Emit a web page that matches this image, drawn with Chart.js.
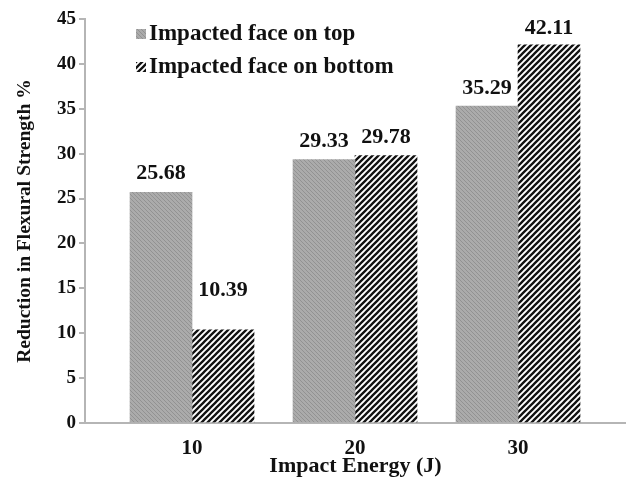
<!DOCTYPE html>
<html>
<head>
<meta charset="utf-8">
<script src="https://cdn.jsdelivr.net/npm/chart.js@4/dist/chart.umd.min.js"></script>
<style>
html,body{margin:0;padding:0;background:#fff;}
#wrap{width:626px;height:482px;}
</style>
</head>
<body>
<div id="wrap"><canvas id="c" width="626" height="482"></canvas></div>
<script>
// ---- data ----
const categories = ['10', '20', '30'];
const seriesNames = ['Impacted face on top', 'Impacted face on bottom'];
const topValues = [25.68, 29.33, 35.29];
const bottomValues = [10.39, 29.78, 42.11];
const yTicks = [0, 5, 10, 15, 20, 25, 30, 35, 40, 45];
const xTitle = 'Impact Energy (J)';
const yTitle = 'Reduction in Flexural Strength %';

const FONT = '"Liberation Serif", "Times New Roman", serif';

function grayPattern() {
  const c = document.createElement('canvas');
  c.width = 4; c.height = 4;
  const g = c.getContext('2d');
  g.fillStyle = '#ababab';
  g.fillRect(0, 0, 4, 4);
  g.strokeStyle = '#929292';
  g.lineWidth = 1;
  g.beginPath();
  g.moveTo(-1, -1); g.lineTo(5, 5);
  g.moveTo(-1, 3); g.lineTo(1, 5);
  g.moveTo(3, -1); g.lineTo(5, 1);
  g.stroke();
  return g.createPattern(c, 'repeat');
}
function hatchPattern() {
  const s = 6;
  const c = document.createElement('canvas');
  c.width = s; c.height = s;
  const g = c.getContext('2d');
  g.fillStyle = '#ffffff';
  g.fillRect(0, 0, s, s);
  g.strokeStyle = '#111111';
  g.lineWidth = 2.3;
  g.lineCap = 'square';
  g.beginPath();
  g.moveTo(0, s); g.lineTo(s, 0);
  g.moveTo(-s / 2, s / 2); g.lineTo(s / 2, -s / 2);
  g.moveTo(s / 2, s * 1.5); g.lineTo(s * 1.5, s / 2);
  g.stroke();
  return g.createPattern(c, 'repeat');
}

const fills = [grayPattern(), hatchPattern()];
const seriesValues = [topValues, bottomValues];

const datasets = seriesNames.map((name, i) => ({
  label: name,
  data: categories.map((c, j) => ({ x: Number(c), y: seriesValues[i][j] })),
  backgroundColor: fills[i],
  borderWidth: 0,
  barThickness: 62,
  grouped: true
}));

const valueLabels = {
  id: 'valueLabels',
  afterDatasetsDraw(chart, args, opts) {
    const ctx = chart.ctx;
    ctx.save();
    ctx.font = 'bold 22px ' + FONT;
    ctx.fillStyle = '#111';
    ctx.textAlign = 'center';
    ctx.textBaseline = 'middle';
    chart.data.datasets.forEach((ds, i) => {
      const meta = chart.getDatasetMeta(i);
      meta.data.forEach((el, j) => {
        const off = (opts.offsets[i] && opts.offsets[i][j]) || 18;
        ctx.fillText(seriesValues[i][j].toFixed(2), el.x, el.y - off);
      });
    });
    ctx.restore();
  }
};

const customLegend = {
  id: 'customLegend',
  afterDraw(chart, args, opts) {
    const ctx = chart.ctx;
    ctx.save();
    ctx.font = 'bold 23px ' + FONT;
    ctx.textAlign = 'left';
    ctx.textBaseline = 'middle';
    seriesNames.forEach((name, i) => {
      const y = opts.y0 + i * opts.dy;
      ctx.fillStyle = fills[i];
      ctx.fillRect(opts.x, y - 5, 10, 10);
      ctx.fillStyle = '#111';
      ctx.fillText(name, opts.x + 13, y);
    });
    ctx.restore();
  }
};

new Chart(document.getElementById('c'), {
  type: 'bar',
  data: { datasets },
  plugins: [valueLabels, customLegend],
  options: {
    responsive: false,
    animation: false,
    devicePixelRatio: 1,
    layout: { padding: { top: 19, right: 0, left: 0, bottom: 0 } },
    plugins: {
      legend: { display: false },
      tooltip: { enabled: false },
      valueLabels: { offsets: [[19, 18, 18], [39, 18, 17]] },
      customLegend: { x: 136, y0: 34, dy: 33 }
    },
    scales: {
      x: {
        type: 'linear',
        offset: false,
        min: 3.435,
        max: 36.625,
        afterBuildTicks(scale) {
          scale.ticks = categories.map(c => ({ value: Number(c) }));
        },
        afterFit(scale) { scale.height = 59; },
        grid: { display: false, offset: false },
        border: { display: true, color: '#b5b5b5', width: 2 },
        ticks: {
          autoSkip: false,
          maxRotation: 0,
          padding: 5,
          color: '#111',
          font: { family: FONT, size: 21, weight: 'bold' },
          callback: (v) => categories.find(c => Number(c) === v) || ''
        },
        title: {
          display: true,
          text: xTitle,
          color: '#111',
          font: { family: FONT, size: 22, weight: 'bold' },
          padding: { top: 0, bottom: 2 }
        }
      },
      y: {
        min: 0,
        max: 45,
        afterBuildTicks(scale) {
          scale.ticks = yTicks.map(v => ({ value: v }));
        },
        afterFit(scale) { scale.width = 85; },
        grid: {
          display: true,
          drawOnChartArea: false,
          drawTicks: true,
          tickLength: 6,
          color: '#b5b5b5',
          lineWidth: 2
        },
        border: { display: true, color: '#b5b5b5', width: 2 },
        ticks: {
          padding: 3,
          color: '#111',
          font: { family: FONT, size: 19, weight: 'bold' }
        },
        title: {
          display: true,
          text: yTitle,
          color: '#111',
          font: { family: FONT, size: 19.5, weight: 'bold' },
          padding: { top: 13, bottom: 0 }
        }
      }
    }
  }
});
</script>
</body>
</html>
